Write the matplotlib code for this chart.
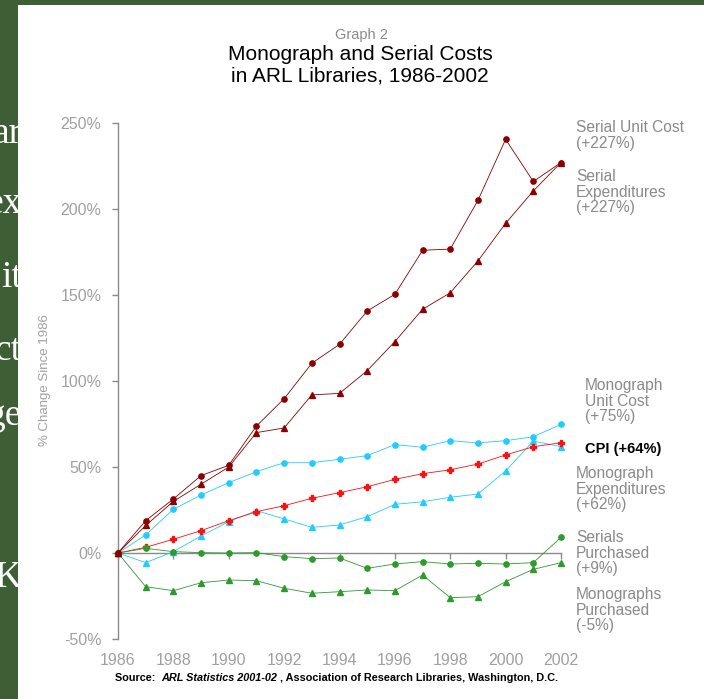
import matplotlib
matplotlib.use("Agg")
import matplotlib.pyplot as plt
from matplotlib.patches import Rectangle

years = list(range(1986, 2003))
serial_unit_cost = [0, 18.8, 31.4, 45, 51, 73.8, 89.7, 110.3, 121.3, 140.7, 150.4, 176, 176.7, 205, 240.5, 216, 227]
serial_expend = [0, 16, 30, 40, 50, 70, 72.7, 91.9, 92.8, 106, 122.9, 141.7, 151.3, 169.8, 191.7, 210.5, 227]
mono_unit_cost = [0, 10.5, 25.4, 33.7, 40.9, 47.3, 52.5, 52.5, 54.5, 56.6, 63, 61.5, 65.3, 64, 65.3, 67.6, 74.8]
mono_expend = [0, -5.6, 0.8, 9.9, 18.2, 24.6, 19.8, 14.9, 16.3, 21.1, 28.3, 29.8, 32.4, 34.3, 47.7, 65.1, 61.8]
cpi = [0, 3.3, 8, 13, 18.8, 24, 27.5, 31.8, 35.1, 38.5, 42.8, 46.1, 48.4, 51.7, 57, 61.8, 64.1]
serials_purch = [0, 2.7, 0.8, 0.2, 0, 0.2, -2.1, -3.3, -2.9, -8.9, -6.4, -5, -6.4, -6, -6.4, -5.6, 9.1]
monos_purch = [0, -19.6, -21.9, -17.3, -15.7, -16.1, -20.5, -23.4, -22.5, -21.5, -21.9, -12.8, -26, -25.4, -16.7, -9.5, -5.6]

ytick_vals = [-50, 0, 50, 100, 150, 200, 250]
ytick_labels = ["-50%", "0%", "50%", "100%", "150%", "200%", "250%"]
xtick_vals = list(range(1986, 2003, 2))

W, H = 704, 699
def fx(px): return px / W
def fy(py): return 1 - py / H

SANS = "Liberation Sans"
GRAY = "#8a8a8a"
LGRAY = "#a0a0a0"
DARKRED = "#8b0000"
BLUE = "#22ccff"
RED = "#ff1010"
GREEN = "#2e9a2e"

fig = plt.figure(figsize=(7.04, 6.99), dpi=100)
fig.patch.set_facecolor("#3e5e36")

# slide text fragments behind the chart
for txt, ybase in [("ar", 143), ("ex", 213), ("it", 287), ("ct", 360), ("ge", 425), ("K", 587)]:
    fig.text(fx(22), fy(ybase), txt, ha="right", va="baseline", color="white",
             fontsize=27, family="Liberation Serif", zorder=-3)
fig.add_artist(Rectangle((fx(18), 0), 1 - fx(18), fy(5), transform=fig.transFigure,
                         facecolor="white", edgecolor="none", zorder=-1))

ax = fig.add_axes([fx(118), fy(639), fx(561) - fx(118), fy(123) - fy(639)])
ax.set_facecolor("none")
ax.set_xlim(1986, 2002)
ax.set_ylim(-50, 250)

lw = 0.6
ms = 3.8
common = dict(lw=lw, ms=ms, clip_on=False)
ax.plot(years, serial_unit_cost, color=DARKRED, marker="o", zorder=5, **common)
ax.plot(years, serial_expend, color=DARKRED, marker="^", zorder=5, **common)
ax.plot(years, mono_unit_cost, color=BLUE, marker="o", zorder=4, **common)
ax.plot(years, mono_expend, color=BLUE, marker="^", zorder=4, **common)
ax.plot(years, cpi, color=RED, marker="P", zorder=4, **common)
ax.plot(years, serials_purch, color=GREEN, marker="o", zorder=4, **common)
ax.plot(years, monos_purch, color=GREEN, marker="^", zorder=4, **common)

for s in ["top", "right"]:
    ax.spines[s].set_visible(False)
ax.spines["left"].set_color(GRAY)
ax.spines["left"].set_linewidth(1)
ax.spines["bottom"].set_position(("data", 0))
ax.spines["bottom"].set_color(GRAY)
ax.spines["bottom"].set_linewidth(1)
ax.spines["bottom"].set_zorder(3)

ax.set_yticks(ytick_vals)
ax.set_yticklabels(ytick_labels)
ax.tick_params(axis="y", direction="out", length=4, width=1, color=GRAY,
               labelcolor=LGRAY, labelsize=11.5, pad=8)
ax.set_xticks(xtick_vals)
ax.tick_params(axis="x", direction="out", length=4, width=1, color=GRAY, labelbottom=False)
for lab in ax.get_yticklabels():
    lab.set_family(SANS)

sec = ax.secondary_xaxis(0)
sec.set_xticks(xtick_vals)
sec.set_xticklabels([str(v) for v in xtick_vals])
sec.spines["bottom"].set_visible(False)
sec.tick_params(axis="x", length=0, pad=10, labelcolor=LGRAY, labelsize=11.5)
for lab in sec.get_xticklabels():
    lab.set_family(SANS)

# titles
fig.text(fx(361), fy(35), "Graph 2", ha="center", va="center", color=GRAY, fontsize=10.5, family=SANS)
fig.text(fx(360), fy(55), "Monograph and Serial Costs", ha="center", va="center", color="black",
         fontsize=15, family=SANS)
fig.text(fx(360), fy(76), "in ARL Libraries, 1986-2002", ha="center", va="center", color="black",
         fontsize=15, family=SANS)

fig.text(fx(45), fy(380), "% Change Since 1986", rotation=90, ha="center", va="center",
         color=LGRAY, fontsize=9.5, family=SANS)

# series labels
lab_kw = dict(ha="left", va="top", color=GRAY, fontsize=11.2, family=SANS, linespacing=1.05)
fig.text(fx(576), fy(120), "Serial Unit Cost\n(+227%)", **lab_kw)
fig.text(fx(576), fy(169), "Serial\nExpenditures\n(+227%)", **lab_kw)
fig.text(fx(585), fy(378), "Monograph\nUnit Cost\n(+75%)", **lab_kw)
fig.text(fx(585), fy(449), "CPI (+64%)", ha="left", va="center", color="black", fontsize=10.5,
         fontweight="bold", family=SANS)
fig.text(fx(576), fy(466), "Monograph\nExpenditures\n(+62%)", **lab_kw)
fig.text(fx(576), fy(530), "Serials\nPurchased\n(+9%)", **lab_kw)
fig.text(fx(576), fy(587), "Monographs\nPurchased\n(-5%)", **lab_kw)

# source line
SFS = 7.8
t1 = fig.text(fx(115), fy(681), "Source:  ", ha="left", va="baseline", color="black", fontsize=SFS,
              fontweight="bold", family=SANS)
t2 = fig.add_artist(plt.Annotation("ARL Statistics 2001-02", xy=(1, 0), xycoords=t1, va="bottom",
                                   ha="left", color="black", fontsize=SFS, fontweight="bold",
                                   style="italic", family=SANS))
t3 = fig.add_artist(plt.Annotation(" , Association of Research Libraries, Washington, D.C.", xy=(1, 0),
                                   xycoords=t2, va="bottom", ha="left", color="black", fontsize=SFS,
                                   fontweight="bold", family=SANS))

fig.savefig("out.png", dpi=100, facecolor=fig.get_facecolor())
